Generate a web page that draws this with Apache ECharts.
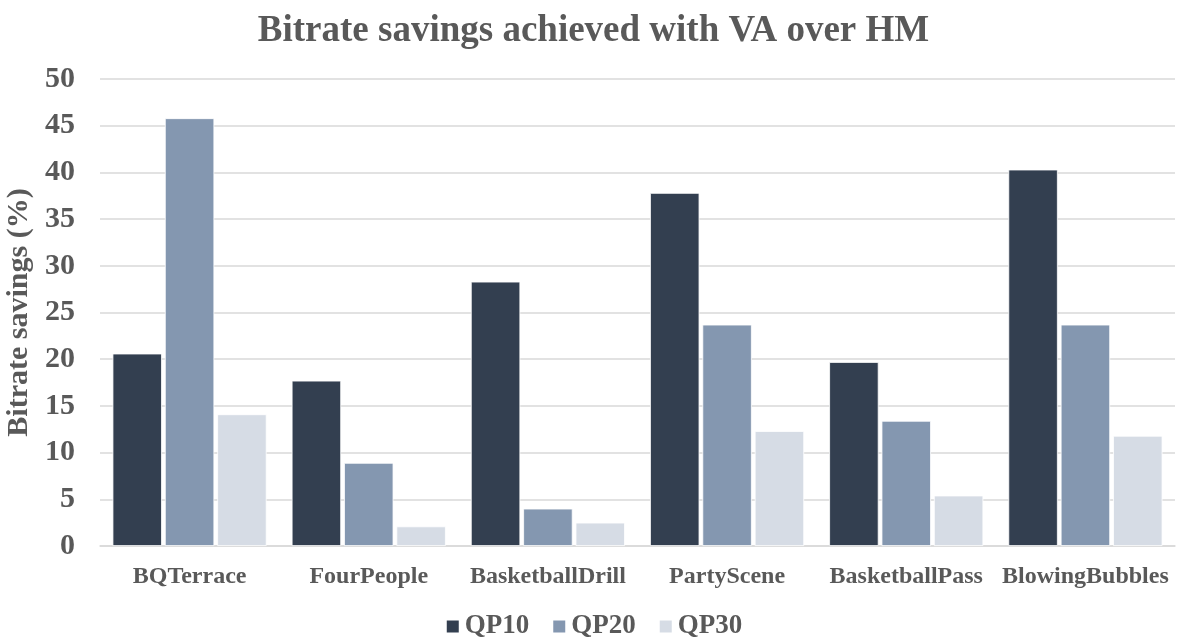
<!DOCTYPE html>
<html><head><meta charset="utf-8">
<script src="https://cdn.jsdelivr.net/npm/echarts@6/dist/echarts.min.js"></script>
<style>html,body{margin:0;padding:0;background:#fff}#c{width:1187px;height:641px}</style>
</head><body><div id="c"></div>
<script>
const categories = ['BQTerrace','FourPeople','BasketballDrill','PartyScene','BasketballPass','BlowingBubbles'];
const qp10 = [20.6, 17.7, 28.3, 37.8, 19.7, 40.3];
const qp20 = [45.8, 8.9, 4.0, 23.7, 13.4, 23.7];
const qp30 = [14.1, 2.1, 2.5, 12.3, 5.4, 11.8];
const seriesNames = ['QP10','QP20','QP30'];
const colors = ['#333F50','#8497B0','#D6DCE5'];
const font = 'Liberation Serif';
const txt = '#595959';
const chart = echarts.init(document.getElementById('c'));
const mk = (name, data, color) => ({
  name, type: 'bar', data,
  barGap: '6%', barCategoryGap: '14%',
  itemStyle: { color, borderColor: '#fff', borderWidth: 0.8 }
});
chart.setOption({
  animation: false,
  title: { text: 'Bitrate savings achieved with VA over HM', left: 'center', top: 8,
    textStyle: { fontFamily: font, fontWeight: 'bold', fontSize: 37, color: txt } },
  legend: { bottom: -4, left: 'center', itemWidth: 14, itemHeight: 14, itemGap: 22,
    icon: 'rect',
    textStyle: { fontFamily: font, fontWeight: 'bold', fontSize: 27, color: txt },
    data: seriesNames },
  grid: { left: 100, right: 12, top: 79, bottom: 95, containLabel: false, outerBoundsMode: 'none' },
  xAxis: { type: 'category', data: categories,
    axisLine: { lineStyle: { color: '#D9D9D9', width: 1.5 } },
    axisTick: { show: false },
    axisLabel: { interval: 0, fontFamily: font, fontWeight: 'bold', fontSize: 24, color: txt, margin: 19 } },
  yAxis: { type: 'value', min: 0, max: 50, interval: 5,
    name: 'Bitrate savings (%)', nameLocation: 'middle', nameGap: 53,
    nameTextStyle: { fontFamily: font, fontWeight: 'bold', fontSize: 30, color: txt },
    axisLine: { show: false }, axisTick: { show: false },
    splitLine: { lineStyle: { color: '#D9D9D9', width: 1.5 } },
    axisLabel: { fontFamily: font, fontWeight: 'bold', fontSize: 30, color: txt, margin: 25 } },
  series: [mk(seriesNames[0], qp10, colors[0]), mk(seriesNames[1], qp20, colors[1]), mk(seriesNames[2], qp30, colors[2])]
});
</script></body></html>
